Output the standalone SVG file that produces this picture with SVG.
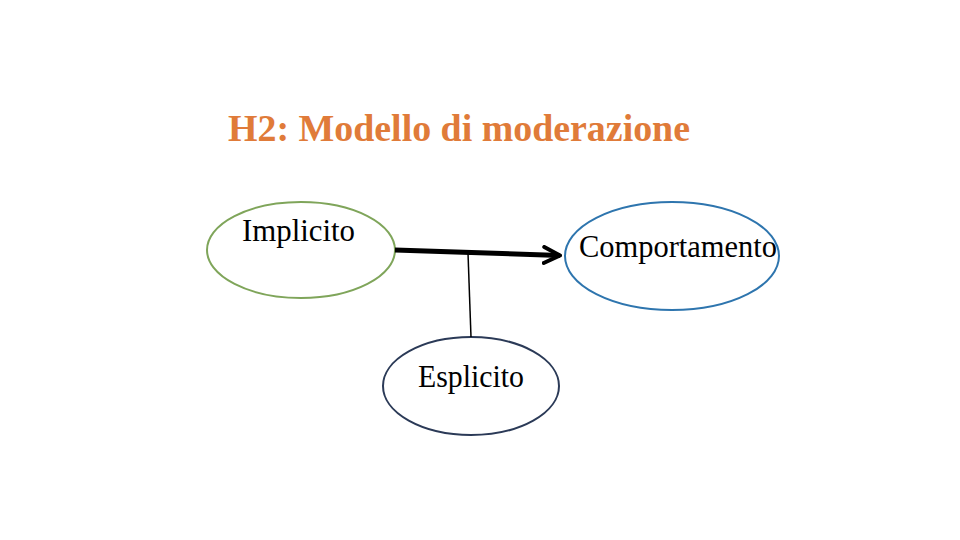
<svg xmlns="http://www.w3.org/2000/svg" width="960" height="540" viewBox="0 0 960 540">
<defs>
<style>
.t{font-family:"Liberation Serif","Times New Roman",serif;fill:#000;font-size:30.5px}
.title{font-family:"Liberation Serif","Times New Roman",serif;font-weight:bold;fill:#E07B39;font-size:37.5px}
</style>
<marker id="ah" viewBox="0 0 10 10" refX="9" refY="5" markerWidth="4" markerHeight="4" orient="auto" markerUnits="strokeWidth">
<path d="M1,1 L9,5 L1,9" fill="none" stroke="#000" stroke-width="2" stroke-linecap="round" stroke-linejoin="round"/>
</marker>
</defs>
<rect width="960" height="540" fill="#fff"/>
<text class="title" x="228" y="141" textLength="462" lengthAdjust="spacingAndGlyphs">H2: Modello di moderazione</text>
<g id="implicito">
<ellipse cx="301" cy="250" rx="94" ry="48" fill="none" stroke="#7FA55A" stroke-width="2"/>
<text class="t" x="242" y="241" textLength="113" lengthAdjust="spacingAndGlyphs">Implicito</text>
</g>
<g id="comportamento">
<ellipse cx="672" cy="256" rx="107" ry="54" fill="none" stroke="#2E75AE" stroke-width="2"/>
<text class="t" x="579" y="257" textLength="198" lengthAdjust="spacingAndGlyphs">Comportamento</text>
</g>
<g id="esplicito">
<ellipse cx="471" cy="386" rx="88" ry="49" fill="none" stroke="#2B3A57" stroke-width="2"/>
<text class="t" x="418" y="387" textLength="106" lengthAdjust="spacingAndGlyphs">Esplicito</text>
</g>
<g id="connectors">
<line x1="395" y1="250" x2="560" y2="255.5" stroke="#000" stroke-width="5" marker-end="url(#ah)"/>
<line x1="468" y1="253" x2="471" y2="337" stroke="#000" stroke-width="1.5"/>
</g>
</svg>
